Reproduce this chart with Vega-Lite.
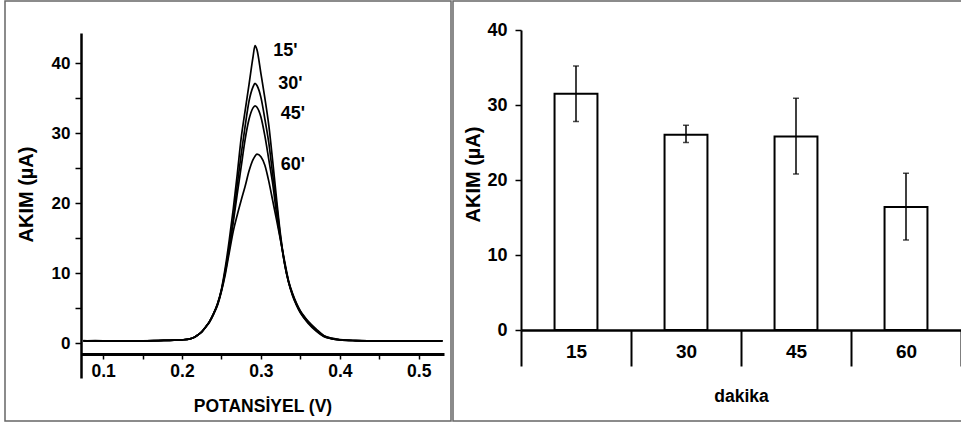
{
"$schema": "https://vega.github.io/schema/vega-lite/v6.json",
"padding": {"left": 4, "top": 0, "right": 0, "bottom": 0},
"background": "white",
"datasets": {
"curves": [
{"t":"15","V":0.075,"I":0.35},{"t":"15","V":0.09,"I":0.3},{"t":"15","V":0.11,"I":0.3},{"t":"15","V":0.13,"I":0.25},{"t":"15","V":0.15,"I":0.3},{"t":"15","V":0.17,"I":0.35},{"t":"15","V":0.19,"I":0.4},{"t":"15","V":0.2,"I":0.45},{"t":"15","V":0.21,"I":0.6},{"t":"15","V":0.215,"I":0.8},{"t":"15","V":0.22,"I":1.15},{"t":"15","V":0.225,"I":1.6},{"t":"15","V":0.23,"I":2.3},{"t":"15","V":0.235,"I":3.1},{"t":"15","V":0.24,"I":4.2},{"t":"15","V":0.245,"I":5.6},{"t":"15","V":0.25,"I":7.7},{"t":"15","V":0.255,"I":10.9},{"t":"15","V":0.26,"I":14.8},{"t":"15","V":0.265,"I":19.2},{"t":"15","V":0.27,"I":24.1},{"t":"15","V":0.275,"I":29.3},{"t":"15","V":0.28,"I":33.2},{"t":"15","V":0.285,"I":37.0},{"t":"15","V":0.29,"I":40.9},{"t":"15","V":0.2925,"I":42.5},{"t":"15","V":0.295,"I":41.9},{"t":"15","V":0.3,"I":38.5},{"t":"15","V":0.305,"I":35.0},{"t":"15","V":0.31,"I":31.1},{"t":"15","V":0.315,"I":25.9},{"t":"15","V":0.32,"I":20.4},{"t":"15","V":0.325,"I":15.3},{"t":"15","V":0.33,"I":11.4},{"t":"15","V":0.335,"I":8.7},{"t":"15","V":0.34,"I":6.8},{"t":"15","V":0.345,"I":5.4},{"t":"15","V":0.35,"I":4.3},{"t":"15","V":0.355,"I":3.5},{"t":"15","V":0.36,"I":2.8},{"t":"15","V":0.37,"I":1.7},{"t":"15","V":0.38,"I":0.9},{"t":"15","V":0.39,"I":0.6},{"t":"15","V":0.4,"I":0.45},{"t":"15","V":0.42,"I":0.35},{"t":"15","V":0.45,"I":0.3},{"t":"15","V":0.48,"I":0.25},{"t":"15","V":0.5,"I":0.3},{"t":"15","V":0.53,"I":0.3},
{"t":"30","V":0.075,"I":0.3},{"t":"30","V":0.09,"I":0.3},{"t":"30","V":0.11,"I":0.25},{"t":"30","V":0.13,"I":0.3},{"t":"30","V":0.15,"I":0.3},{"t":"30","V":0.17,"I":0.35},{"t":"30","V":0.19,"I":0.4},{"t":"30","V":0.2,"I":0.45},{"t":"30","V":0.21,"I":0.6},{"t":"30","V":0.215,"I":0.8},{"t":"30","V":0.22,"I":1.15},{"t":"30","V":0.225,"I":1.6},{"t":"30","V":0.23,"I":2.3},{"t":"30","V":0.235,"I":3.1},{"t":"30","V":0.24,"I":4.2},{"t":"30","V":0.245,"I":5.6},{"t":"30","V":0.25,"I":7.6},{"t":"30","V":0.255,"I":10.5},{"t":"30","V":0.26,"I":13.9},{"t":"30","V":0.265,"I":17.8},{"t":"30","V":0.27,"I":22.6},{"t":"30","V":0.275,"I":27.0},{"t":"30","V":0.28,"I":31.0},{"t":"30","V":0.285,"I":34.6},{"t":"30","V":0.29,"I":36.6},{"t":"30","V":0.2925,"I":37.1},{"t":"30","V":0.295,"I":36.8},{"t":"30","V":0.3,"I":35.1},{"t":"30","V":0.305,"I":32.0},{"t":"30","V":0.31,"I":28.6},{"t":"30","V":0.315,"I":24.0},{"t":"30","V":0.32,"I":19.6},{"t":"30","V":0.325,"I":15.0},{"t":"30","V":0.33,"I":11.3},{"t":"30","V":0.335,"I":8.7},{"t":"30","V":0.34,"I":6.9},{"t":"30","V":0.345,"I":5.5},{"t":"30","V":0.35,"I":4.4},{"t":"30","V":0.355,"I":3.6},{"t":"30","V":0.36,"I":2.9},{"t":"30","V":0.37,"I":1.8},{"t":"30","V":0.38,"I":0.95},{"t":"30","V":0.39,"I":0.6},{"t":"30","V":0.4,"I":0.45},{"t":"30","V":0.42,"I":0.35},{"t":"30","V":0.45,"I":0.3},{"t":"30","V":0.48,"I":0.3},{"t":"30","V":0.5,"I":0.25},{"t":"30","V":0.53,"I":0.3},
{"t":"45","V":0.075,"I":0.3},{"t":"45","V":0.09,"I":0.35},{"t":"45","V":0.11,"I":0.3},{"t":"45","V":0.13,"I":0.3},{"t":"45","V":0.15,"I":0.25},{"t":"45","V":0.17,"I":0.35},{"t":"45","V":0.19,"I":0.4},{"t":"45","V":0.2,"I":0.45},{"t":"45","V":0.21,"I":0.6},{"t":"45","V":0.215,"I":0.8},{"t":"45","V":0.22,"I":1.15},{"t":"45","V":0.225,"I":1.6},{"t":"45","V":0.23,"I":2.3},{"t":"45","V":0.235,"I":3.1},{"t":"45","V":0.24,"I":4.2},{"t":"45","V":0.245,"I":5.5},{"t":"45","V":0.25,"I":7.5},{"t":"45","V":0.255,"I":10.2},{"t":"45","V":0.26,"I":13.6},{"t":"45","V":0.265,"I":17.3},{"t":"45","V":0.27,"I":21.3},{"t":"45","V":0.275,"I":25.2},{"t":"45","V":0.28,"I":29.1},{"t":"45","V":0.285,"I":32.0},{"t":"45","V":0.29,"I":33.6},{"t":"45","V":0.2925,"I":33.9},{"t":"45","V":0.295,"I":33.7},{"t":"45","V":0.3,"I":32.3},{"t":"45","V":0.305,"I":29.6},{"t":"45","V":0.31,"I":26.2},{"t":"45","V":0.315,"I":22.7},{"t":"45","V":0.32,"I":18.3},{"t":"45","V":0.325,"I":14.7},{"t":"45","V":0.33,"I":11.4},{"t":"45","V":0.335,"I":8.8},{"t":"45","V":0.34,"I":7.0},{"t":"45","V":0.345,"I":5.6},{"t":"45","V":0.35,"I":4.5},{"t":"45","V":0.355,"I":3.7},{"t":"45","V":0.36,"I":3.0},{"t":"45","V":0.37,"I":1.9},{"t":"45","V":0.38,"I":1.0},{"t":"45","V":0.39,"I":0.65},{"t":"45","V":0.4,"I":0.45},{"t":"45","V":0.42,"I":0.35},{"t":"45","V":0.45,"I":0.3},{"t":"45","V":0.48,"I":0.3},{"t":"45","V":0.5,"I":0.3},{"t":"45","V":0.53,"I":0.3},
{"t":"60","V":0.075,"I":0.3},{"t":"60","V":0.09,"I":0.3},{"t":"60","V":0.11,"I":0.3},{"t":"60","V":0.13,"I":0.3},{"t":"60","V":0.15,"I":0.3},{"t":"60","V":0.17,"I":0.35},{"t":"60","V":0.19,"I":0.4},{"t":"60","V":0.2,"I":0.45},{"t":"60","V":0.21,"I":0.6},{"t":"60","V":0.215,"I":0.8},{"t":"60","V":0.22,"I":1.15},{"t":"60","V":0.225,"I":1.6},{"t":"60","V":0.23,"I":2.25},{"t":"60","V":0.235,"I":3.0},{"t":"60","V":0.24,"I":4.1},{"t":"60","V":0.245,"I":5.4},{"t":"60","V":0.25,"I":7.4},{"t":"60","V":0.255,"I":9.9},{"t":"60","V":0.26,"I":13.0},{"t":"60","V":0.265,"I":16.0},{"t":"60","V":0.27,"I":18.3},{"t":"60","V":0.275,"I":20.4},{"t":"60","V":0.28,"I":22.4},{"t":"60","V":0.285,"I":24.6},{"t":"60","V":0.29,"I":26.2},{"t":"60","V":0.2925,"I":26.7},{"t":"60","V":0.295,"I":27.0},{"t":"60","V":0.3,"I":26.6},{"t":"60","V":0.305,"I":25.4},{"t":"60","V":0.31,"I":23.1},{"t":"60","V":0.315,"I":20.3},{"t":"60","V":0.32,"I":17.5},{"t":"60","V":0.325,"I":14.6},{"t":"60","V":0.33,"I":11.7},{"t":"60","V":0.335,"I":8.9},{"t":"60","V":0.34,"I":7.1},{"t":"60","V":0.345,"I":5.7},{"t":"60","V":0.35,"I":4.6},{"t":"60","V":0.355,"I":3.8},{"t":"60","V":0.36,"I":3.1},{"t":"60","V":0.37,"I":2.0},{"t":"60","V":0.38,"I":1.05},{"t":"60","V":0.39,"I":0.7},{"t":"60","V":0.4,"I":0.5},{"t":"60","V":0.42,"I":0.35},{"t":"60","V":0.45,"I":0.3},{"t":"60","V":0.48,"I":0.3},{"t":"60","V":0.5,"I":0.3},{"t":"60","V":0.53,"I":0.3}
],
"labels": [
{"lab":"15'","V":0.3155,"I":41.7},{"lab":"30'","V":0.322,"I":37.0},{"lab":"45'","V":0.325,"I":32.7},{"lab":"60'","V":0.325,"I":25.5}
],
"bars": [
{"dakika":"15","mean":31.5,"lo":27.8,"hi":35.2},
{"dakika":"30","mean":26.05,"lo":25.0,"hi":27.3},
{"dakika":"45","mean":25.8,"lo":20.8,"hi":30.9},
{"dakika":"60","mean":16.4,"lo":12.0,"hi":20.9}
]
},
"config": {
"view": {"stroke": "#666", "strokeWidth": 1.5},
"concat": {"spacing": 0},
"font": "Liberation Sans",
"axis": {"labelFont": "Liberation Sans", "titleFont": "Liberation Sans", "labelFontWeight": "bold", "titleFontWeight": "bold", "labelColor": "black", "titleColor": "black", "domainColor": "black", "tickColor": "black", "grid": false}
},
"hconcat": [
{
"width": 446, "height": 420,
"layer": [
{"data": {"name": "curves"},
 "mark": {"type": "line", "color": "black", "strokeWidth": 1.7, "interpolate": "monotone"},
 "encoding": {
  "x": {"field": "V", "type": "quantitative",
   "scale": {"domain": [0.072, 0.532], "range": [76, 439], "nice": false, "zero": false},
   "axis": {"values": [0.1, 0.15, 0.2, 0.25, 0.3, 0.35, 0.4, 0.45, 0.5],
    "labelExpr": "round(datum.value*100) % 10 == 0 ? format(datum.value, '.1f') : ''",
    "offset": -67, "domainWidth": 3, "tickSize": 5, "tickWidth": 1.5, "labelFontSize": 17.5, "labelPadding": 3,
    "title": "POTANSİYEL (V)", "titleFontSize": 17.5, "titleY": 52, "titleBaseline": "middle"}},
  "y": {"field": "I", "type": "quantitative",
   "scale": {"domain": [-5, 44.3], "range": [377, 32], "nice": false, "zero": false},
   "axis": {"values": [0, 5, 10, 15, 20, 25, 30, 35, 40],
    "labelExpr": "datum.value % 10 == 0 ? datum.label : ''",
    "offset": -76, "domainWidth": 2.5, "tickSize": 6, "tickWidth": 1.5, "labelFontSize": 17, "labelPadding": 5,
    "title": "AKIM (µA)", "titleFontSize": 20, "titleX": -55, "titleY": 193, "titleBaseline": "middle", "titleAlign": "center"}},
  "detail": {"field": "t"}
 }},
{"data": {"name": "labels"},
 "mark": {"type": "text", "fontSize": 18, "fontWeight": "bold", "font": "Liberation Sans", "align": "left", "baseline": "middle", "color": "black"},
 "encoding": {
  "x": {"field": "V", "type": "quantitative"},
  "y": {"field": "I", "type": "quantitative"},
  "text": {"field": "lab"}
 }}
]
},
{
"width": 513, "height": 420,
"data": {"name": "bars"},
"layer": [
{"mark": {"type": "bar", "fill": "white", "stroke": "black", "strokeWidth": 2, "width": {"band": 0.39}},
 "encoding": {
  "x": {"field": "dakika", "type": "nominal", "sort": null,
   "scale": {"range": [68, 508], "paddingInner": 0, "paddingOuter": 0},
   "axis": {"tickBand": "extent", "tickSize": 36, "tickWidth": 2, "domainWidth": 2.5, "labelAngle": 0, "labelFontSize": 19,
    "labelPadding": -15, "labelBaseline": "middle", "offset": -91,
    "title": "dakika", "titleFontSize": 17.5, "titleY": 66, "titleBaseline": "middle"}},
  "y": {"field": "mean", "type": "quantitative",
   "scale": {"domain": [0, 40], "range": [329, 29], "nice": false},
   "axis": {"values": [0, 10, 20, 30, 40], "offset": -68, "tickSize": 6, "tickWidth": 1.5, "domainWidth": 2, "labelFontSize": 18, "labelPadding": 8,
    "title": "AKIM (µA)", "titleFontSize": 20, "titleX": -48, "titleY": 173, "titleBaseline": "middle", "titleAlign": "center"}}
 }},
{"mark": {"type": "rule", "strokeWidth": 1.5, "color": "black"},
 "encoding": {
  "x": {"field": "dakika", "type": "nominal", "sort": null},
  "y": {"field": "lo", "type": "quantitative"},
  "y2": {"field": "hi"}
 }},
{"mark": {"type": "tick", "size": 6, "thickness": 1.5, "color": "black", "orient": "horizontal"},
 "encoding": {
  "x": {"field": "dakika", "type": "nominal", "sort": null},
  "y": {"field": "hi", "type": "quantitative"}
 }},
{"mark": {"type": "tick", "size": 6, "thickness": 1.5, "color": "black", "orient": "horizontal"},
 "encoding": {
  "x": {"field": "dakika", "type": "nominal", "sort": null},
  "y": {"field": "lo", "type": "quantitative"}
 }}
]
}
]
}
